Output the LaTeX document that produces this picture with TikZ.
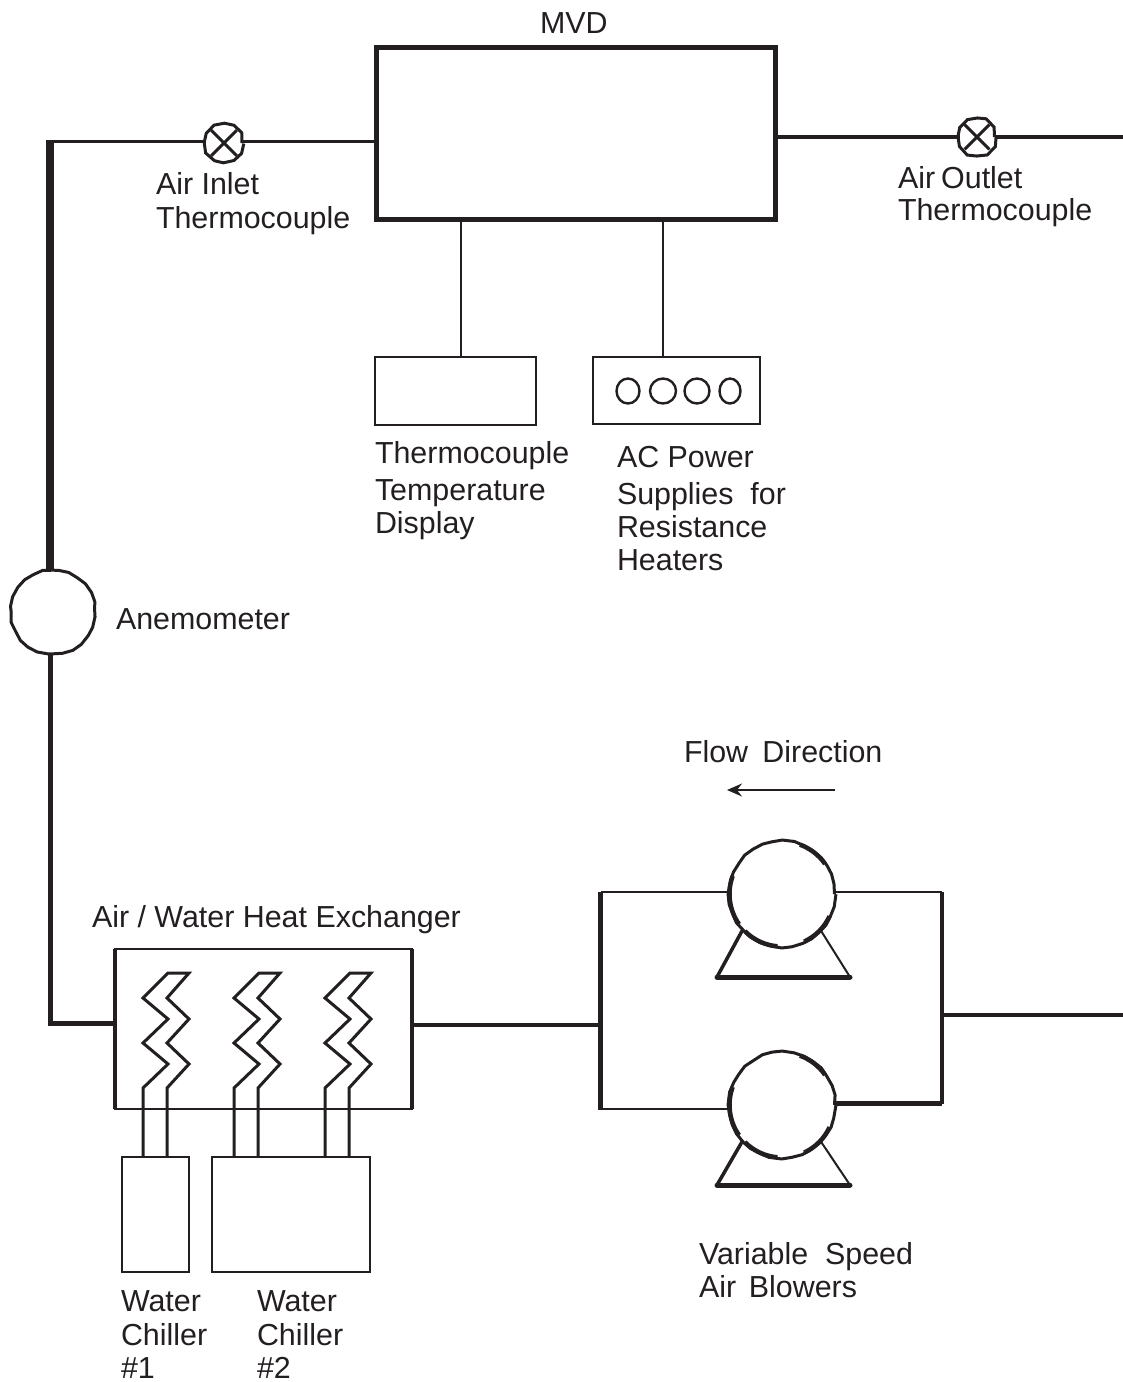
\documentclass[tikz,border=0pt]{standalone}
\usepackage{fontspec}
\setmainfont{Liberation Sans}
\usetikzlibrary{arrows.meta,shapes.geometric,decorations.pathmorphing}
\definecolor{ink}{HTML}{231F20}
\tikzset{
    unit/.style={draw=ink, line width=1.2pt, inner sep=0pt, outer sep=0pt},
    rough/.style={decorate, decoration={random steps, segment length=#1, amplitude=.3pt}},
    rough/.default=5pt,
    round/.style={unit, circle, line width=1.5pt, rough},
    heavy/.style={draw=ink, line width=#1, line cap=butt},
    heavy/.default=2.5pt,
    lab/.style={inner sep=0pt, outer sep=0pt, anchor=base west, text=ink, align=left,
        font=\fontsize{15.2}{16.5}\selectfont},
}
\begin{document}
\begin{tikzpicture}[x=0.5pt,y=-0.5pt]
    \useasboundingbox (0,0) rectangle (1123,1382);

    % test section and what hangs off it
    \node[unit, minimum width=199.5pt, minimum height=86pt] (mvd) at (575.5,133) {};
    \draw[heavy, line cap=rect] (mvd.north west) -- (mvd.north east) -- (mvd.south east)
        -- (mvd.south west) -- (mvd.north west);
    \node[unit, line width=1pt, minimum width=80.5pt, minimum height=34pt] (dsp) at (455.5,391) {};
    \node[unit, line width=1pt, minimum width=83.5pt, minimum height=33.5pt] (pwr) at (676.5,390.5) {};
    \coordinate (dspin) at (461,357);
    \coordinate (pwrin) at (663,357);
    \draw[unit, line width=1pt] (mvd.south -| dspin) -- (dspin);
    \draw[unit, line width=1pt] (mvd.south -| pwrin) -- (pwrin);
    \foreach \i/\x/\w in {1/628/11.5,2/663/13,3/697/12.5,4/730/10.5} {
        \node[unit, ellipse, minimum width=\w pt, minimum height=12.5pt] (knob\i) at (\x,391) {};
    }

    % air loop, top
    \node[round, minimum size=18pt] (tcin) at (224,143) {};
    \node[round, minimum size=17.5pt] (tcout) at (977,137) {};
    \foreach \tc in {tcin,tcout} {
        \draw[heavy=1.5pt] (\tc.45) -- (\tc.225);
        \draw[heavy=1.5pt] (\tc.135) -- (\tc.315);
    }
    \coordinate (ctop) at (50,141);
    \coordinate (cbot) at (50,1023);
    \coordinate (outtop) at (1123,137);
    \node[round, minimum size=41.5pt] (anem) at (53,612) {};
    \draw[heavy=1.5pt] (mvd.west |- ctop) -- (tcin.east |- ctop);
    \draw[heavy=1.5pt] (tcin.west |- ctop) -- (ctop);
    \draw[heavy=4pt] (ctop |- anem.north) -- (50,139.5);
    \draw[heavy=2pt] (mvd.east |- outtop) -- (tcout.west |- outtop);
    \draw[heavy=2pt] (tcout.east |- outtop) -- (outtop);

    % heat exchanger and chillers
    \node[unit, minimum width=148.5pt, minimum height=80pt] (hx) at (263.5,1029) {};
    \draw[heavy=2pt] (hx.north west) -- (hx.south west);
    \draw[heavy=2pt] (hx.north east) -- (hx.south east);
    \node[unit, minimum width=33.5pt, minimum height=57.5pt] (chla) at (155.5,1214.5) {};
    \node[unit, minimum width=79pt, minimum height=57.5pt] (chlb) at (291,1214.5) {};
    \draw[heavy, line join=miter] (cbot |- anem.south) -- (cbot) -- (hx.west |- cbot);
    \foreach \dx in {0,91,182} {
        \draw[heavy=1.5pt, line join=miter, shift={(\dx,0)}] (143,1157) -- (143,1088) -- (168,1064)
            -- (143,1043) -- (168,1019) -- (143,998) -- (168,973) -- (189,973)
            -- (167,998) -- (189,1019) -- (167,1043) -- (189,1064) -- (167,1088) -- (167,1157);
    }

    % blowers
    \foreach \bl/\yc/\yb in {bla/894/0,blb/1105/208} {
        \node[round, minimum size=52.5pt] (\bl) at (782,\yc) {};
        \foreach \a/\b in {35/70,160/215,225/265,295/335} {
            \draw[heavy=2.25pt] (\bl.\a) arc[start angle=\a, end angle=\b, radius=26.25pt];
        }
        \draw[heavy=1.75pt] (\bl.222) -- (717,977+\yb);
        \draw[heavy=1pt] (\bl.-43) -- (850,977+\yb);
        \draw[heavy=2.5pt, line cap=round] (717,977+\yb) -- (850,977+\yb);
    }
    \coordinate (frnw) at (600.5,892);
    \coordinate (frsw) at (600.5,1109);
    \coordinate (frne) at (942,892);
    \coordinate (frse) at (942,1103);
    \coordinate (hxout) at (412,1025);
    \coordinate (outbot) at (1123,1015);
    \draw[unit, line width=1pt] (bla.west |- frnw) -- (frnw);
    \draw[unit, line width=1pt] (blb.west |- frsw) -- (frsw);
    \draw[heavy=2.25pt] (600.5,891.5) -- (600.5,1110);
    \draw[unit, line width=1pt] (bla.east |- frne) -- (frne);
    \draw[heavy=2.5pt] (blb.east |- frse) -- (frse);
    \draw[heavy=2.25pt] (942,891.5) -- (942,1104);
    \draw[heavy=2pt] (hxout) -- (frnw |- hxout);
    \draw[heavy=2pt] (frne |- outbot) -- (outbot);

    % flow arrow
    \coordinate (flowa) at (835,790);
    \coordinate (flowb) at (727,790);
    \draw[draw=ink, line width=.75pt, -{Stealth[length=7.5pt,width=6.5pt,inset=2.5pt,fill=ink]}] (flowa) -- (flowb);

    % labels
    \node[lab] (lmvd) at (540,33) {MVD};
    \node[lab] (ltcin) at (156,228) {Air Inlet\\[.3pt]Thermocouple};
    \node[lab] (ltcout) at (898,220) {Air\hspace{.2em}Outlet\\[-.5pt]Thermocouple};
    \node[lab] (ldsp) at (375,533) {Thermocouple\\[2pt]Temperature\\Display};
    \node[lab] (lpwr) at (617,570) {AC Power\\[2pt]Supplies\ \ for\\Resistance\\Heaters};
    \node[lab] (lanem) at (116,629) {Anemometer};
    \node[lab] (lflow) at (684,762) {Flow\hspace{.47em}Direction};
    \node[lab] (lhx) at (92,927) {Air / Water Heat Exchanger};
    \node[lab] (lbl) at (699,1297) {Variable\ \ Speed\\Air\hspace{.42em}Blowers};
    \node[lab] (lcha) at (121,1378) {Water\\[.5pt]Chiller\\\#1};
    \node[lab] (lchb) at (257,1378) {Water\\[.5pt]Chiller\\\#2};
\end{tikzpicture}
\end{document}
